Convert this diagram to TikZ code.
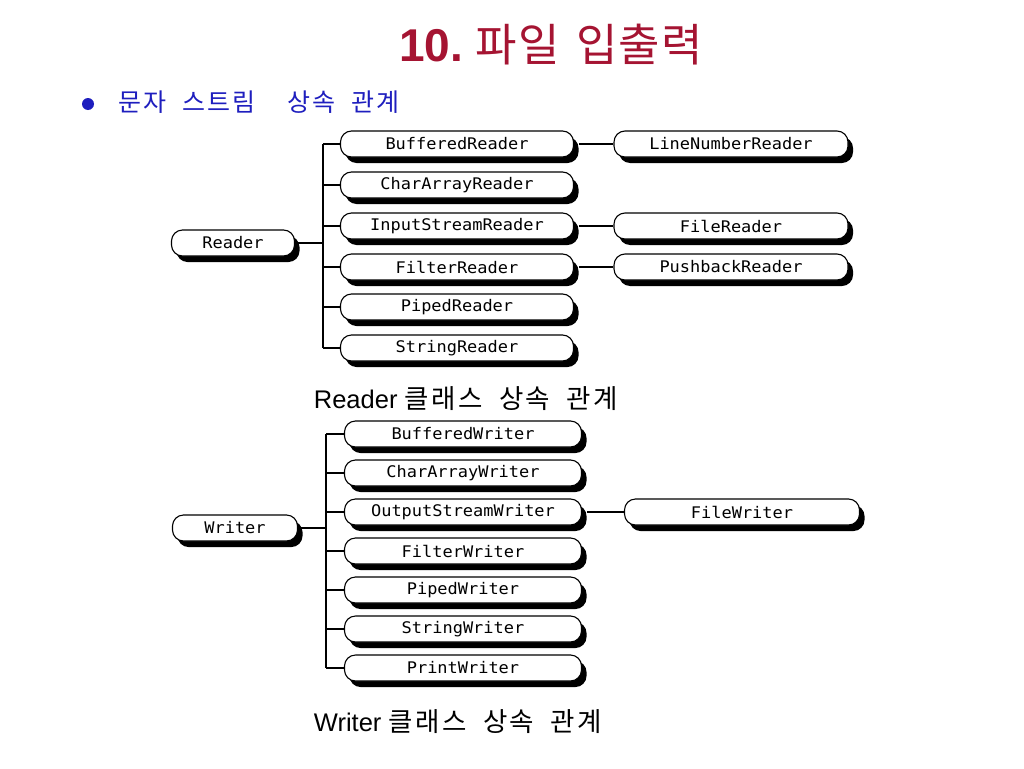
\documentclass[tikz,border=0pt]{standalone}
\usepackage{fontspec}
\setmainfont{Liberation Sans}
\newfontfamily\krfont[WordSpace=1.4,LetterSpace=3]{Noto Sans CJK KR}
\newfontfamily\krtext[WordSpace=2,LetterSpace=9]{Noto Sans CJK KR}
\newfontfamily\boxfont[FakeStretch=1.06]{DejaVu Sans Mono}
\usetikzlibrary{shadows}
\definecolor{titlered}{RGB}{165,20,50}
\definecolor{bulletblue}{RGB}{30,30,190}

\tikzstyle{cls}=[draw=black,fill=white,line width=1.1pt,rounded corners=11pt,inner sep=0pt,
  minimum height=26pt,font=\boxfont\fontsize{16}{16}\selectfont,
  drop shadow={shadow xshift=5pt,shadow yshift=-6pt,fill=black,opacity=1}]
\tikzstyle{rootcls}=[cls,minimum width=123pt]
\tikzstyle{rsub}=[cls,minimum width=233pt]
\tikzstyle{wsub}=[cls,minimum width=237pt]
\tikzstyle{leaf}=[cls,minimum width=234pt]
\tikzstyle{branch}=[line width=1.2pt]
\tikzstyle{caption}=[font=\fontsize{25.5}{25.5}\selectfont]

\begin{document}
\begin{tikzpicture}[x=1pt,y=-1pt]
\useasboundingbox (0,0) rectangle (1024,768);
% title and bullet
\node[text=titlered] (title) at (551,45)
  {{\fontsize{46}{46}\selectfont\bfseries 10.}\hspace{13pt}{\krfont\fontsize{45}{45}\selectfont 파일 입출력}};
\node[circle,fill=bulletblue,minimum size=12pt,inner sep=0pt] (bullet) at (88,104) {};
\node[anchor=west,text=bulletblue,inner sep=0pt] (topic) at (118,102)
  {\krtext\fontsize{25}{25}\selectfont 문자 스트림\ \ 상속 관계};

% Reader: 1st column
\node[rootcls] (reader) at (233,243) {Reader};
\coordinate (rtrunk) at (323,243);
% Reader: 2nd column
\node[rsub] (r1) at (457,144) {BufferedReader};
\node[rsub] (r2) at (457,185) {CharArrayReader};
\node[rsub] (r3) at (457,226) {InputStreamReader};
\node[rsub] (r4) at (457,267) {FilterReader};
\node[rsub] (r5) at (457,307) {PipedReader};
\node[rsub] (r6) at (457,348) {StringReader};
% Reader: 3rd column
\node[leaf] (r1a) at (731,144) {LineNumberReader};
\node[leaf] (r3a) at (731,226) {FileReader};
\node[leaf] (r4a) at (731,267) {PushbackReader};
% Reader: connectors
\draw[branch] (reader.east) -- (rtrunk);
\draw[branch] (rtrunk |- r1.west) -- (rtrunk |- r6.west);
\foreach \n in {r1,r2,r3,r4,r5,r6}
  \draw[branch] (rtrunk |- \n.west) -- (\n.west);
\draw[branch] ([xshift=5pt]r1.east) -- (r1a.west);
\draw[branch] ([xshift=5pt]r3.east) -- (r3a.west);
\draw[branch] ([xshift=5pt]r4.east) -- (r4a.west);
\node[caption] (rcap) at (466,399) {Reader {\krtext\fontsize{26.5}{26.5}\selectfont 클래스 상속 관계}};

% Writer: 1st column
\node[rootcls,minimum width=125pt] (writer) at (235,528) {Writer};
\coordinate (wtrunk) at (326,528);
% Writer: 2nd column
\node[wsub] (w1) at (463,434) {BufferedWriter};
\node[wsub] (w2) at (463,473) {CharArrayWriter};
\node[wsub] (w3) at (463,512) {OutputStreamWriter};
\node[wsub] (w4) at (463,551) {FilterWriter};
\node[wsub] (w5) at (463,590) {PipedWriter};
\node[wsub] (w6) at (463,629) {StringWriter};
\node[wsub] (w7) at (463,668) {PrintWriter};
% Writer: 3rd column
\node[leaf,minimum width=235pt] (w3a) at (742,512) {FileWriter};
% Writer: connectors
\draw[branch] (writer.east) -- (wtrunk);
\draw[branch] (wtrunk |- w1.west) -- (wtrunk |- w7.west);
\foreach \n in {w1,w2,w3,w4,w5,w6,w7}
  \draw[branch] (wtrunk |- \n.west) -- (\n.west);
\draw[branch] ([xshift=5pt]w3.east) -- (w3a.west);
\node[caption] (wcap) at (458,722) {Writer {\krtext\fontsize{26.5}{26.5}\selectfont 클래스 상속 관계}};
\end{tikzpicture}
\end{document}
